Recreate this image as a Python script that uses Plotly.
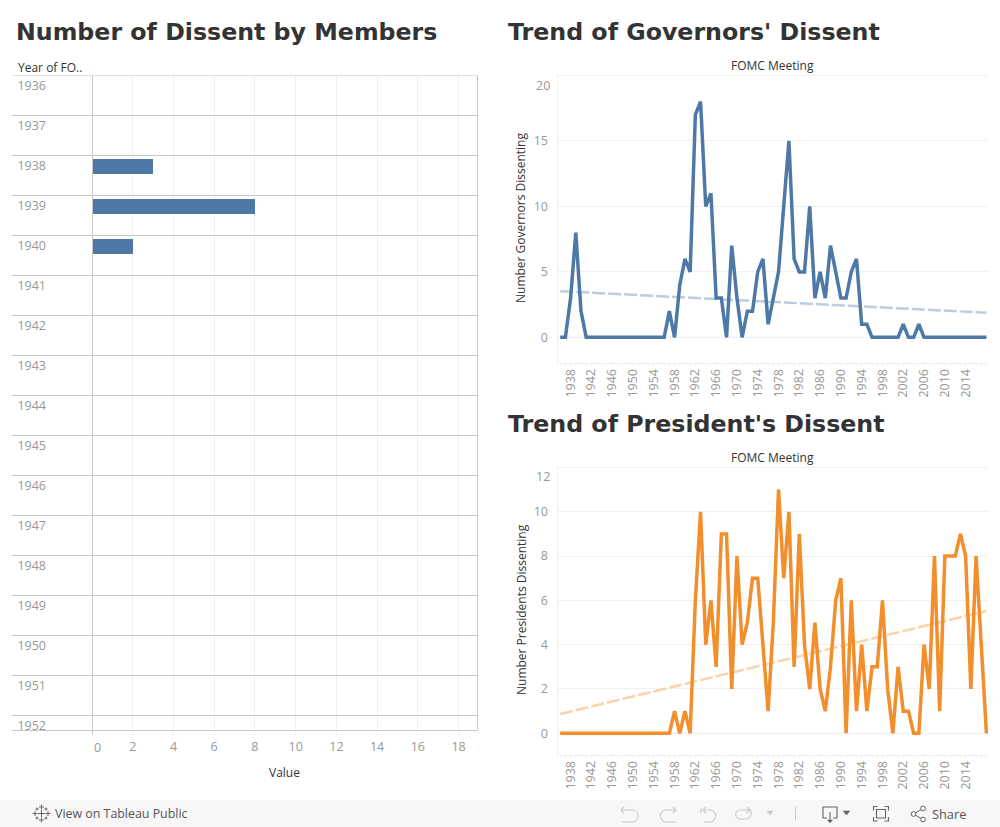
import plotly.graph_objects as go

# ---------- data ----------
bar_years = list(range(1936, 1953))
bar_values = [0, 0, 3, 8, 2, 0, 0, 0, 0, 0, 0, 0, 0, 0, 0, 0, 0]
value_ticks = [2, 4, 6, 8, 10, 12, 14, 16, 18]

years = list(range(1936, 2019))
governors = [0, 0, 3, 8, 2, 0, 0, 0, 0, 0, 0, 0, 0, 0, 0, 0, 0, 0, 0, 0, 0,
             2, 0, 4, 6, 5, 17, 18, 10, 11, 3, 3, 0, 7, 3, 0, 2, 2, 5, 6, 1, 3, 5, 10, 15,
             6, 5, 5, 10, 3, 5, 3, 7, 5, 3, 3, 5, 6, 1, 1, 0, 0, 0, 0, 0, 0,
             1, 0, 0, 1, 0, 0, 0, 0, 0, 0, 0, 0, 0, 0, 0, 0, 0]
presidents = [0, 0, 0, 0, 0, 0, 0, 0, 0, 0, 0, 0, 0, 0, 0, 0, 0, 0, 0, 0, 0, 0,
              1, 0, 1, 0, 6, 10, 4, 6, 3, 9, 9, 2, 8, 4, 5, 7, 7, 4, 1, 5, 11, 7, 10,
              3, 9, 4, 2, 5, 2, 1, 3, 6, 7, 0, 6, 1, 4, 1, 3, 3, 6, 2, 0,
              3, 1, 1, 0, 0, 4, 2, 8, 1, 8, 8, 8, 9, 8, 2, 8, 4, 0]
trend_years = [1936, 2018]
governors_trend = [3.53, 1.88]
presidents_trend = [0.87, 5.52]
year_ticks = list(range(1938, 2015, 4))
governor_ticks = [0, 5, 10, 15]
president_ticks = [0, 2, 4, 6, 8, 10]

# ---------- style ----------
W, H = 1000, 827
BLUE, ORANGE = "#4e79a7", "#f28e2b"
LIGHT_BLUE, LIGHT_ORANGE = "#bccde0", "#fbd2aa"
GRID, RULE = "#f0f0f0", "#c8c8c8"
TICK, DARK = "#989898", "#333333"
FONT = "Open Sans"
HEAD = "DejaVu Sans"


def X(p):
    return p / W


def Y(p):
    return 1 - p / H


def P(*items):
    """Build a paper-space path from pixel positions."""
    out = []
    for it in items:
        if isinstance(it, str):
            out.append(it)
        else:
            out.append(f"{X(it[0]):.5f} {Y(it[1]):.5f}")
    return " ".join(out)


fig = go.Figure()
annotations, shapes = [], []


def text(s, x, y, size=12, color=DARK, anchor="left", family=FONT, angle=0, bold=False):
    annotations.append(dict(
        text=f"<b>{s}</b>" if bold else s, x=X(x), y=Y(y), xref="paper", yref="paper",
        xanchor=anchor, yanchor="middle", showarrow=False, textangle=angle,
        font=dict(size=size, color=color, family=family), borderpad=0, borderwidth=0))


def pline(x0, y0, x1, y1, color=RULE, width=1, layer="above"):
    shapes.append(dict(type="line", xref="paper", yref="paper", x0=X(x0), y0=Y(y0), x1=X(x1), y1=Y(y1),
                       line=dict(color=color, width=width), layer=layer))


def ppath(d, color="#8a8a8a", width=1.1, fill=None):
    shapes.append(dict(type="path", xref="paper", yref="paper", path=d,
                       line=dict(color=color, width=width),
                       fillcolor=fill if fill else "rgba(0,0,0,0)", layer="above"))


# ---------- marks ----------
fig.add_trace(go.Bar(x=bar_values, y=bar_years, orientation="h", width=0.375,
                     marker=dict(color=BLUE, line=dict(width=0)), xaxis="x", yaxis="y"))

for ax, vals, col, tr, trc in [("2", governors, BLUE, governors_trend, LIGHT_BLUE),
                               ("3", presidents, ORANGE, presidents_trend, LIGHT_ORANGE)]:
    fig.add_trace(go.Scatter(x=trend_years, y=tr, mode="lines", xaxis="x" + ax, yaxis="y" + ax,
                             line=dict(color=trc, width=2.5, dash="13px,3px")))
    fig.add_trace(go.Scatter(x=years, y=vals, mode="lines", xaxis="x" + ax, yaxis="y" + ax,
                             line=dict(color=col, width=3.5, shape="linear")))
    shapes.append(dict(type="line", xref=f"x{ax} domain", yref=f"y{ax}", x0=0, x1=1, y0=0, y1=0,
                       line=dict(color="#b0b0b0", width=1, dash="1px,3px"), layer="below"))

# ---------- left chart furniture ----------
L, R, T, B = 92.5, 477.5, 75.5, 730.5
for yr in bar_years:
    shapes.append(dict(type="line", xref="paper", yref="y", x0=X(12), x1=X(R), y0=yr - 0.25, y1=yr - 0.25,
                       line=dict(color=RULE, width=1), layer="above"))
pline(12, B, R, B)
pline(L, T, L, B + 4)
pline(R, T, R, B)

# ---------- text ----------
text("Number of Dissent by Members", 16, 32, 23.7, DARK, family=HEAD, bold=True)
text("Trend of Governors' Dissent", 508, 32, 23.7, DARK, family=HEAD, bold=True)
text("Trend of President's Dissent", 508, 424, 23.7, DARK, family=HEAD, bold=True)
text("Year of FO..", 18, 67, 12, DARK)
text("Value", 284, 772, 12, DARK, anchor="center")
text("0", 97, 747, 12.5, TICK, anchor="center")
text("FOMC Meeting", 772, 66, 12, DARK, anchor="center")
text("FOMC Meeting", 772, 458, 12, DARK, anchor="center")
text("Number Governors Dissenting", 521, 218, 12, DARK, anchor="center", angle=-90)
text("Number Presidents Dissenting", 521, 610, 12, DARK, anchor="center", angle=-90)
text("20", 550, 85, 12.5, TICK, anchor="right")
text("12", 550, 476, 12.5, TICK, anchor="right")

# ---------- footer ----------
shapes.append(dict(type="rect", xref="paper", yref="paper", x0=0, x1=1, y0=Y(827), y1=Y(800),
                   fillcolor="#f7f7f7", line=dict(width=0), layer="below"))
text("View on Tableau Public", 55, 813.5, 12.4, "#555555")
text("Share", 932, 813.5, 12.8, "#555555")

# tableau logo
c = (41.5, 813.5)
for dx, dy, r in [(0, 0, 3.5), (0, -6.5, 2.5), (0, 6.5, 2.5), (-6.5, 0, 2.5), (6.5, 0, 2.5),
                  (-4.5, -4.5, 1.5), (4.5, -4.5, 1.5), (-4.5, 4.5, 1.5), (4.5, 4.5, 1.5)]:
    pline(c[0] + dx - r, c[1] + dy, c[0] + dx + r, c[1] + dy, "#666666", 1)
    pline(c[0] + dx, c[1] + dy - r, c[0] + dx, c[1] + dy + r, "#666666", 1)

GRAY = "#c9c9c9"
# undo
ppath(P("M", (621, 810), "L", (632, 810), "C", (640, 810), (640, 822), (632, 822), "L", (622, 822)), GRAY)
ppath(P("M", (624, 807), "L", (621, 810), "L", (624, 813)), GRAY)
# redo
ppath(P("M", (676, 810), "L", (667, 810), "C", (658, 810), (658, 822), (667, 822), "L", (676, 822)), GRAY)
ppath(P("M", (673, 807), "L", (676, 810), "L", (673, 813)), GRAY)
# revert
ppath(P("M", (701, 808), "L", (701, 813)), GRAY)
ppath(P("M", (703, 810), "L", (709, 810), "C", (718, 810), (718, 822), (709, 822), "L", (704, 822)), GRAY)
ppath(P("M", (706, 807), "L", (703, 810), "L", (706, 813)), GRAY)
# refresh
ppath(P("M", (750, 810), "L", (741, 810), "C", (734, 810), (734, 819), (741, 819), "L", (746, 819),
        "C", (752, 819), (752, 810), (750, 810)), GRAY)
ppath(P("M", (747, 807), "L", (750, 810), "L", (747, 813)), GRAY)
ppath(P("M", (767, 811), "L", (773, 811), "L", (770, 815), "Z"), GRAY, 0.5, GRAY)
pline(795.5, 807, 795.5, 820, GRAY, 1)
# download
ppath(P("M", (827, 818), "L", (823, 818), "L", (823, 807), "L", (837, 807), "L", (837, 818), "L", (833, 818)), "#666666")
ppath(P("M", (830, 812), "L", (830, 822)), "#666666")
ppath(P("M", (827.5, 820), "L", (830, 823), "L", (832.5, 820), "Z"), "#666666", 0.5, "#666666")
ppath(P("M", (843, 811), "L", (850, 811), "L", (846.5, 815), "Z"), "#666666", 0.5, "#666666")
# fullscreen
for sx, sy in [(873.5, 806.5), (888.5, 806.5), (873.5, 821), (888.5, 821)]:
    dx = 4 if sx < 880 else -4
    dy = 4 if sy < 813 else -4
    ppath(P("M", (sx + dx, sy), "L", (sx, sy), "L", (sx, sy + dy)), "#666666")
ppath(P("M", (876.5, 809.5), "L", (885.5, 809.5), "L", (885.5, 818), "L", (876.5, 818), "Z"), "#666666")
# share
for cx, cy in [(913.5, 814), (923, 808.5), (923, 819.5)]:
    shapes.append(dict(type="circle", xref="paper", yref="paper", x0=X(cx - 2.4), x1=X(cx + 2.4),
                       y0=Y(cy + 2.4), y1=Y(cy - 2.4), line=dict(color="#666666", width=1), layer="above"))
pline(915.6, 812.8, 920.9, 809.7, "#666666", 1)
pline(915.6, 815.2, 920.9, 818.3, "#666666", 1)

# ---------- axes ----------
tickfont = dict(family=FONT, size=12.5, color=TICK)


def line_x():
    return dict(domain=[X(557.5), X(988)], range=[1935.48, 2018.3], tickmode="array", tickvals=year_ticks,
                tickangle=-90, tickfont=tickfont, showgrid=False, zeroline=False, showline=True, mirror=True,
                linecolor=GRID, linewidth=1, ticks="outside", ticklen=3, tickcolor=GRID, ticklabelstandoff=-3,
                minor=dict(dtick=1, tick0=1936, ticks="outside", ticklen=2, tickcolor=GRID, showgrid=False))


def line_y(t, b, rng, vals, anchor):
    return dict(domain=[Y(b), Y(t)], range=rng, tickmode="array", tickvals=vals, tickfont=tickfont,
                showgrid=True, gridcolor=GRID, gridwidth=1, zeroline=False, showline=True, linecolor=GRID,
                linewidth=1, ticks="", ticklabelstandoff=6, anchor=anchor)


fig.update_layout(
    width=W, height=H, autosize=False, margin=dict(l=0, r=0, t=0, b=0, pad=0, autoexpand=False), showlegend=False,
    paper_bgcolor="white", plot_bgcolor="white", bargap=0, font=dict(family=FONT),
    annotations=annotations, shapes=shapes,
    xaxis=dict(domain=[X(92), X(R)], range=[0, 18.93], tickmode="array", tickvals=value_ticks, tickfont=tickfont,
               showgrid=True, gridcolor=GRID, zeroline=False, showline=False, ticks="outside", ticklen=4,
               tickcolor=GRID, anchor="y"),
    yaxis=dict(domain=[Y(B), Y(T)], range=[1952.125, 1935.75], tickmode="array", tickvals=bar_years,
               tickfont=tickfont, showgrid=False, zeroline=False, showline=False, ticks="",
               ticklabelstandoff=45, anchor="x"),
    xaxis2=dict(line_x(), anchor="y2"),
    yaxis2=line_y(75.5, 363, [-1.96, 20], governor_ticks, "x2"),
    xaxis3=dict(line_x(), anchor="y3"),
    yaxis3=line_y(467.5, 755, [-0.98, 12], president_ticks, "x3"),
)

fig.write_html("out.html", config={"displayModeBar": False},
               post_script="document.body.style.margin='0';document.body.style.overflow='hidden';")
